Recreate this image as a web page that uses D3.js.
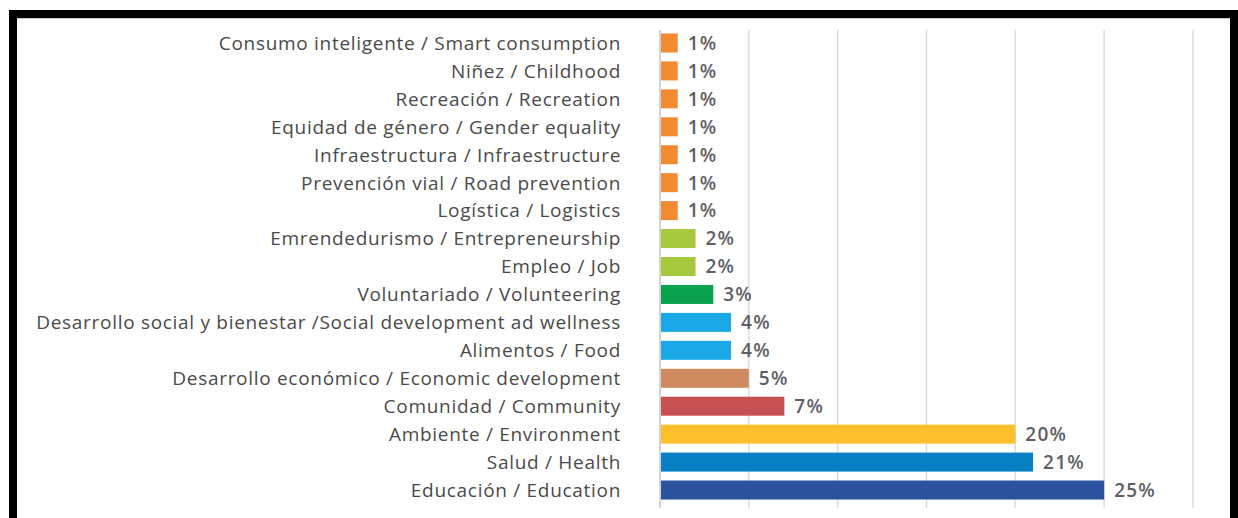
<!DOCTYPE html>
<html>
<head>
<meta charset="utf-8">
<script src="https://cdn.jsdelivr.net/npm/d3@7"></script>
<style>
  body { margin: 0; background: #fff; }
</style>
</head>
<body>
<div id="chart-area"></div>
<script>
const categories = [
    "Consumo inteligente / Smart consumption",
    "Niñez / Childhood",
    "Recreación / Recreation",
    "Equidad de género / Gender equality",
    "Infraestructura / Infraestructure",
    "Prevención vial / Road prevention",
    "Logística / Logistics",
    "Emrendedurismo / Entrepreneurship",
    "Empleo / Job",
    "Voluntariado / Volunteering",
    "Desarrollo social y bienestar /Social development ad wellness",
    "Alimentos / Food",
    "Desarrollo económico / Economic development",
    "Comunidad / Community",
    "Ambiente / Environment",
    "Salud / Health",
    "Educación / Education"
]
const values = [1, 1, 1, 1, 1, 1, 1, 2, 2, 3, 4, 4, 5, 7, 20, 21, 25]
const barColors = [
    "#f28a33", "#f28a33", "#f28a33", "#f28a33", "#f28a33", "#f28a33", "#f28a33",
    "#a6c83f", "#a6c83f", "#0aa24f", "#1aa9e6", "#1aa9e6", "#cf8b5f",
    "#c75152", "#fdc02d", "#0a80c4", "#2b529c"
]
const xTicks = [0, 5, 10, 15, 20, 25, 30]

const WIDTH = 1238
const HEIGHT = 518

const svg = d3.select("#chart-area").append("svg")
    .attr("width", WIDTH)
    .attr("height", HEIGHT)

const data = categories.map((c, i) => ({name: c, value: values[i], color: barColors[i]}))

const x = d3.scaleLinear().domain([0, 30]).range([660, 1193])
const y = d3.scaleBand().domain(categories).range([29, 504])
    .paddingInner(0.32)
    .paddingOuter(0.16)

// frame
svg.append("rect").attr("x", 9).attr("y", 10).attr("width", 1229).attr("height", 8).attr("fill", "#000")
svg.append("rect").attr("x", 9).attr("y", 10).attr("width", 8).attr("height", 508).attr("fill", "#000")
svg.append("rect").attr("x", 1230).attr("y", 10).attr("width", 8).attr("height", 508).attr("fill", "#000")
svg.append("line").attr("x1", 17).attr("x2", 1230).attr("y1", 18.5).attr("y2", 18.5)
    .attr("stroke", "#c8c8c8").attr("stroke-width", 1)

// gridlines
svg.append("g").selectAll("line").data(xTicks).enter().append("line")
    .attr("x1", d => x(d)).attr("x2", d => x(d))
    .attr("y1", 30).attr("y2", 508)
    .attr("stroke", d => d === 0 ? "#c4c4c4" : "#dcdcdc")
    .attr("stroke-width", 1.5)

// category labels
svg.append("g").selectAll("text").data(data).enter().append("text")
    .attr("x", 621)
    .attr("y", d => y(d.name) + y.bandwidth() / 2)
    .attr("dy", "0.36em")
    .attr("text-anchor", "end")
    .attr("font-family", "'Open Sans', sans-serif")
    .attr("font-size", "19px")
    .attr("letter-spacing", "0.7px")
    .attr("fill", "#4a4a4a")
    .text(d => d.name)

// bars
svg.append("g").selectAll("rect").data(data).enter().append("rect")
    .attr("x", x(0) + 1)
    .attr("y", d => y(d.name))
    .attr("width", d => x(d.value) - x(0) - 1)
    .attr("height", y.bandwidth())
    .attr("fill", d => d.color)

// value labels
svg.append("g").selectAll("text").data(data).enter().append("text")
    .attr("x", d => x(d.value) + 10)
    .attr("y", d => y(d.name) + y.bandwidth() / 2)
    .attr("dy", "0.36em")
    .attr("font-family", "'Open Sans', sans-serif")
    .attr("font-weight", 600)
    .attr("font-size", "19px")
    .attr("letter-spacing", "1.2px")
    .attr("fill", "#5e5e66")
    .text(d => d.value + "%")
</script>
</body>
</html>
